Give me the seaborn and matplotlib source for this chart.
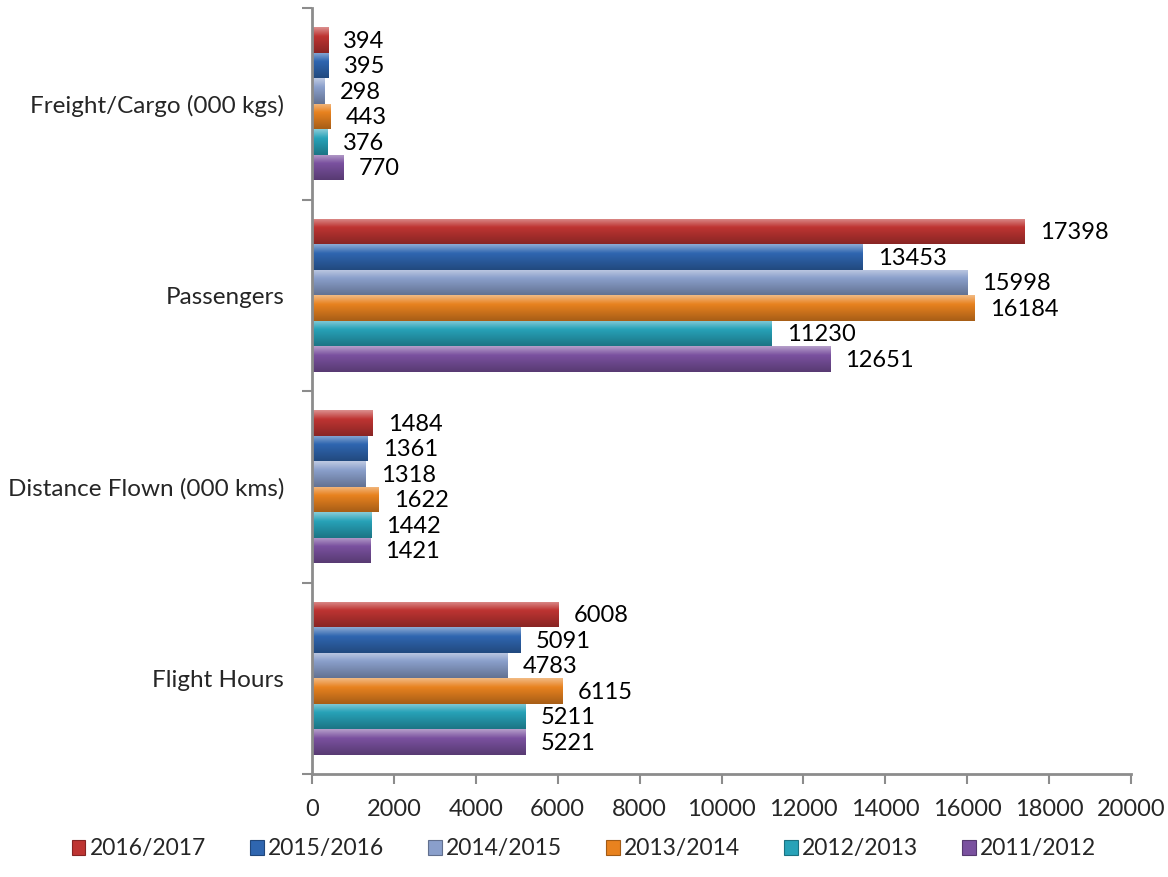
import numpy as np
import pandas as pd
import matplotlib
matplotlib.use("Agg")
import matplotlib.pyplot as plt
import matplotlib.colors as mcolors
from matplotlib.patches import Patch
import seaborn as sns

# ---- data ----
categories = ["Freight/Cargo (000 kgs)", "Passengers", "Distance Flown (000 kms)", "Flight Hours"]
years = ["2016/2017", "2015/2016", "2014/2015", "2013/2014", "2012/2013", "2011/2012"]
freight = [394, 395, 298, 443, 376, 770]
passengers = [17398, 13453, 15998, 16184, 11230, 12651]
distance = [1484, 1361, 1318, 1622, 1442, 1421]
flight_hours = [6008, 5091, 4783, 6115, 5211, 5221]
x_ticks = [0, 2000, 4000, 6000, 8000, 10000, 12000, 14000, 16000, 18000, 20000]

palette = ["#BE3432", "#2F66B0", "#8A9FCB", "#E8821F", "#27A2B8", "#7A519F"]

rows = []
for cat, vals in zip(categories, [freight, passengers, distance, flight_hours]):
    for yr, v in zip(years, vals):
        rows.append({"category": cat, "year": yr, "value": v})
df = pd.DataFrame(rows)

sns.set_theme(style="white")
plt.rcParams["font.family"] = ["Lato", "DejaVu Sans"]
plt.rcParams["font.size"] = 17

fig = plt.figure(figsize=(11.68, 8.77), dpi=100)
ax = fig.add_axes([312 / 1168, 1 - 774 / 877, (1131 - 312) / 1168, (774 - 8) / 877])

sns.barplot(data=df, y="category", x="value", hue="year", order=categories,
            hue_order=years, palette=palette, orient="h", width=0.8,
            saturation=1, ax=ax, legend=False, edgecolor="none")

ax.set_xlim(0, 20000)
ax.set_ylim(3.5, -0.5)

# glossy vertical shading on each bar, clipped to the bar shape
for patch in list(ax.patches):
    w = patch.get_width()
    h = patch.get_height()
    if w <= 0:
        continue
    x0, y0 = patch.get_x(), patch.get_y()
    base = np.array(mcolors.to_rgb(patch.get_facecolor()))
    t = np.linspace(0, 1, 64)
    light = base + (1 - base) * 0.45
    dark = base * 0.72
    grad = np.empty((64, 1, 3))
    for i, ti in enumerate(t):
        if ti < 0.35:
            a = ti / 0.35
            c = light * (1 - a) + base * a
        else:
            a = (ti - 0.35) / 0.65
            c = base * (1 - a) + dark * a
        grad[i, 0] = c
    im = ax.imshow(grad, extent=(x0, x0 + w, y0 + h, y0), origin="upper",
                   aspect="auto", zorder=patch.get_zorder() + 0.1,
                   interpolation="bilinear")
    im.set_clip_path(patch)

ax.set_xlim(0, 20000)
ax.set_ylim(3.5, -0.5)
ax.set_aspect("auto")

# value labels
for cat_i, vals in enumerate([freight, passengers, distance, flight_hours]):
    for hue_i, v in enumerate(vals):
        yc = cat_i - 0.4 + 0.8 / 6 * (hue_i + 0.5)
        ax.annotate(str(v), xy=(v, yc), xytext=(11, -1), textcoords="offset points",
                    ha="left", va="center", fontsize=17, color="black")

# axes styling
axis_grey = "#8C8C8C"
for s in ["top", "right"]:
    ax.spines[s].set_visible(False)
for s in ["left", "bottom"]:
    ax.spines[s].set_color(axis_grey)
    ax.spines[s].set_linewidth(2)

ax.set_xticks(x_ticks)
ax.set_xticklabels([str(v) for v in x_ticks])
ax.tick_params(axis="x", direction="out", length=7, width=1.5, color=axis_grey,
               pad=11, labelsize=17, bottom=True)

ax.set_yticks(range(len(categories)))
ax.set_yticklabels(categories)
ax.tick_params(axis="y", which="major", length=0, pad=20, labelsize=17.5)
ax.set_yticks([-0.5, 0.5, 1.5, 2.5, 3.5], minor=True)
ax.tick_params(axis="y", which="minor", direction="out", length=7, width=1.5,
               color=axis_grey, left=True)
ax.set_xlabel("")
ax.set_ylabel("")
ax.grid(False)

handles = [Patch(facecolor=c, edgecolor=mcolors.to_hex(np.array(mcolors.to_rgb(c)) * 0.7),
                 linewidth=0.8) for c in palette]
fig.legend(handles, years, loc="center", bbox_to_anchor=(0.5, 1 - 849 / 877),
           ncol=6, frameon=False, fontsize=16.5, handlelength=0.6, handleheight=0.6,
           handletextpad=0.2, columnspacing=1.9)

fig.savefig("out.png", dpi=100)
